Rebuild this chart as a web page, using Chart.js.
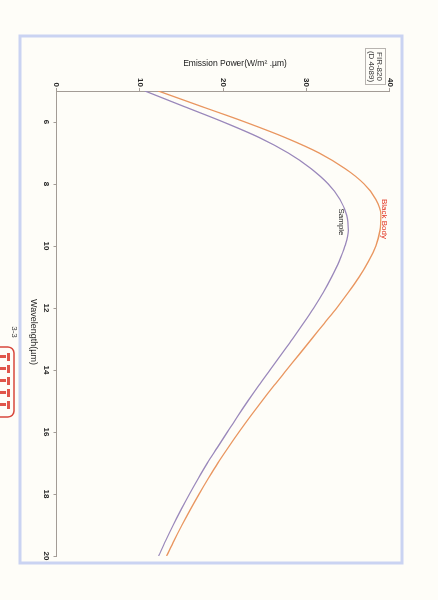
<!DOCTYPE html>
<html>
<head>
<meta charset="utf-8">
<script src="https://cdn.jsdelivr.net/npm/chart.js@4/dist/chart.umd.min.js"></script>
<style>
  html, body { margin:0; padding:0; background:#fefdf8; overflow:hidden; }
  body { width:438px; height:600px; position:relative; }
  #wrap { position:absolute; left:0; top:0; width:600px; height:438px;
          transform-origin:0 0; transform:translate(438px,0) rotate(90deg); }
  canvas { display:block; }
</style>
</head>
<body>
<div id="wrap"><canvas id="c" width="600" height="438"></canvas></div>
<script>
// Data
const wavelengths = [5,5.5,6,6.5,7,7.5,8,8.5,9,9.5,10,10.5,11,11.5,12,12.5,13,13.5,14,14.5,15,15.5,16,16.5,17,17.5,18,18.5,19,19.5,20];
const blackBody = [12.2,17.4,22.6,27.4,31.5,34.6,36.9,38.3,38.9,38.8,38.3,37.4,36.3,35.0,33.6,32.1,30.6,29.1,27.6,26.1,24.65,23.25,21.9,20.6,19.35,18.2,17.1,16.05,15.05,14.1,13.2];
const sample    = [10.6,15.3,20.0,24.3,27.8,30.5,32.6,34.0,34.8,35.0,34.6,33.9,33.0,32.0,30.85,29.6,28.3,26.95,25.6,24.25,22.95,21.7,20.5,19.3,18.1,17.0,15.95,14.95,14.0,13.1,12.25];
const wavelengthTicks = [6,8,10,12,14,16,18,20];
const emissionTicks = [0,10,20,30,40];
const seriesNames = ['Black Body','Sample'];

const axisColor = '#a39c96';
const FONT = '"Liberation Sans", Arial, sans-serif';
Chart.defaults.font.family = FONT;

const decor = {
  id:'decor',
  beforeDraw(chart){
    const ctx = chart.ctx;
    ctx.save();
    ctx.fillStyle = '#fefdf8';
    ctx.fillRect(0,0,chart.width,chart.height);
    ctx.restore();
  },
  afterDraw(chart){
    const ctx = chart.ctx;
    ctx.save();
    // page frame
    ctx.strokeStyle = '#cad3f2';
    ctx.lineWidth = 3;
    ctx.strokeRect(36, 36, 527, 382);
    // axis titles
    ctx.fillStyle = '#222';
    ctx.font = '9px ' + FONT;
    ctx.textAlign = 'center';
    ctx.textBaseline = 'middle';
    ctx.fillText('Wavelength(\u00b5m)', 332, 405);
    ctx.save();
    ctx.translate(64, 203);
    ctx.rotate(-Math.PI/2);
    ctx.font = '8.5px ' + FONT;
    ctx.fillText('Emission Power(W/m\u00b2 .\u00b5m)', 0, 0);
    ctx.restore();
    // series labels
    ctx.font = '8px ' + FONT;
    ctx.fillStyle = '#e0301e';
    ctx.fillText(seriesNames[0], 219, 54);
    ctx.fillStyle = '#222';
    ctx.fillText(seriesNames[1], 222, 97);
    // sample id box
    ctx.strokeStyle = '#b8b4b0';
    ctx.lineWidth = 1;
    ctx.strokeRect(48.5, 52.5, 36, 20);
    ctx.fillStyle = '#333';
    ctx.font = '8px ' + FONT;
    ctx.fillText('FIR-820', 66.5, 58.5);
    ctx.fillText('(D 4089)', 66.5, 66.5);
    // page number
    ctx.fillStyle = '#444';
    ctx.font = '8px ' + FONT;
    ctx.fillText('3-3', 332, 424);
    // red stamp
    ctx.strokeStyle = '#d8473c';
    ctx.lineWidth = 1.5;
    ctx.beginPath();
    if (ctx.roundRect) ctx.roundRect(347, 424, 70, 22, 6); else ctx.rect(347,424,70,22);
    ctx.stroke();
    ctx.fillStyle = '#e0554a';
    for (let i=0;i<5;i++){ ctx.fillRect(353 + i*12, 428, 8, 3); ctx.fillRect(355 + i*12, 432, 3, 6); }
    ctx.restore();
  }
};

const chart = new Chart(document.getElementById('c'), {
  type:'line',
  data:{
    datasets:[
      { label:seriesNames[0], data:wavelengths.map((w,i)=>({x:w,y:blackBody[i]})),
        borderColor:'#e99660', borderWidth:1.3, pointRadius:0, cubicInterpolationMode:'monotone', fill:false },
      { label:seriesNames[1], data:wavelengths.map((w,i)=>({x:w,y:sample[i]})),
        borderColor:'#9a88bb', borderWidth:1.3, pointRadius:0, cubicInterpolationMode:'monotone', fill:false }
    ]
  },
  options:{
    responsive:false,
    devicePixelRatio:1,
    animation:false,
    layout:{ padding:{ left:0, right:44, top:48, bottom:0 } },
    plugins:{ legend:{display:false}, tooltip:{enabled:false} },
    scales:{
      x:{ type:'linear', position:'bottom', min:5, max:20,
          afterBuildTicks(s){ s.ticks = wavelengthTicks.map(v=>({value:v})); },
          afterFit(s){ s.height = 56.5; },
          grid:{ drawOnChartArea:false, drawTicks:true, tickLength:3, color:axisColor },
          border:{ display:true, color:axisColor, width:1 },
          ticks:{ color:'#222', padding:2, font:{ size:8, weight:'bold' }, maxRotation:0 } },
      y:{ type:'linear', position:'left', min:0, max:40,
          afterBuildTicks(s){ s.ticks = emissionTicks.map(v=>({value:v})); },
          afterFit(s){ s.width = 91; },
          grid:{ drawOnChartArea:false, drawTicks:true, tickLength:3, color:axisColor },
          border:{ display:true, color:axisColor, width:1 },
          ticks:{ color:'#222', padding:1, font:{ size:8, weight:'bold' } } }
    }
  },
  plugins:[decor]
});
</script>
</body>
</html>
